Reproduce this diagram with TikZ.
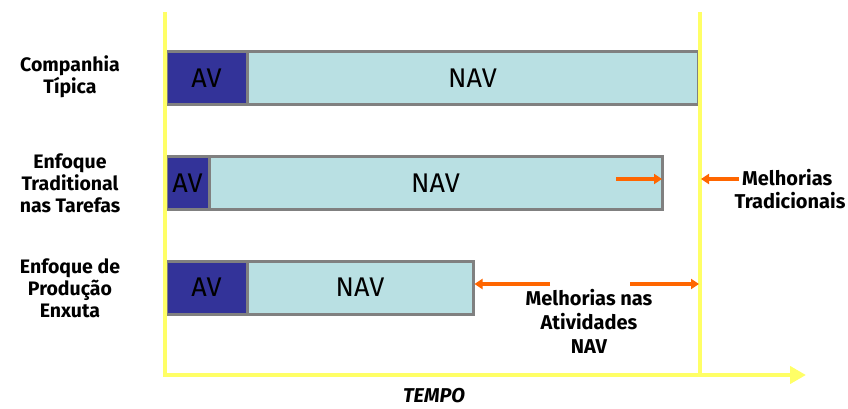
\documentclass[tikz,border=0pt]{standalone}
\usepackage{fontspec}
\setmainfont{Fira Sans}
\usetikzlibrary{arrows.meta}
\definecolor{avblue}{RGB}{51,51,153}
\definecolor{navcyan}{RGB}{185,224,227}
\definecolor{bargray}{RGB}{128,128,128}
\definecolor{axisyellow}{RGB}{255,255,102}
\definecolor{arroworange}{RGB}{255,102,0}
\tikzset{
  avbox/.style={draw=bargray, line width=3pt, fill=avblue, minimum height=53pt, inner sep=0pt, font=\fontsize{27}{27}\selectfont},
  navbox/.style={draw=bargray, line width=3pt, fill=navcyan, minimum height=53pt, inner sep=0pt, font=\fontsize{27}{27}\selectfont},
  rowlabel/.style={align=center, font=\fontsize{19.5}{22}\selectfont\bfseries, inner sep=0pt},
  notelabel/.style={align=center, font=\fontsize{20}{24}\selectfont\bfseries, inner sep=0pt},
  axisline/.style={draw=axisyellow, line width=4pt},
  improve/.style={draw=arroworange, line width=3.5pt, -{Triangle[length=8pt,width=10pt]}}
}
\begin{document}
\begin{tikzpicture}[x=1pt,y=-1pt]
\useasboundingbox (0,0) rectangle (848,409);
% bars
\node[avbox, minimum width=81pt] (av1) at (206.5,78) {AV};
\node[navbox, minimum width=451pt] (nav1) at (472.5,78) {NAV};
\node[avbox, minimum width=43pt] (av2) at (187.5,183) {AV};
\node[navbox, minimum width=453pt] (nav2) at (435.5,183) {NAV};
\node[avbox, minimum width=81pt] (av3) at (206.5,287.5) {AV};
\node[navbox, minimum width=226pt] (nav3) at (360,287.5) {NAV};
% axes
\coordinate (top1) at (165,12);
\coordinate (origin) at (165,375);
\coordinate (top2) at (700,12);
\coordinate (bot2) at (700,375);
\coordinate (axend) at (806,375);
\draw[axisline] (top1) -- (origin);
\draw[axisline] (top2) -- (bot2);
\draw[axisline, -{Triangle[length=16pt,width=17pt]}] (163,375) -- (axend);
% row labels
\node[rowlabel] (l1) at (70,77) {Companhia\\Típica};
\node[rowlabel] (l2) at (70,183) {Enfoque\\Traditional\\nas Tarefas};
\node[rowlabel] (l3) at (70,288) {Enfoque de\\Produção\\Enxuta};
\node[font=\fontsize{20}{20}\selectfont\bfseries\itshape, inner sep=0pt] (tempo) at (434,396) {TEMPO};
% notes
\node[notelabel, anchor=west] (m1) at (742,178) {Melhorias};
\node[notelabel] (m2) at (790,201) {Tradicionais};
\node[notelabel] (m3) at (589,321) {Melhorias nas\\Atividades\\NAV};
% arrows
\coordinate (a2s) at (616,179);
\coordinate (a2e) at (662,179);
\draw[improve] (a2s) -- (a2e);
\coordinate (t1s) at (739,179);
\coordinate (t1e) at (701,179);
\draw[improve] (t1s) -- (t1e);
\coordinate (n1s) at (550,284);
\draw[improve] (n1s) -- (nav3.east |- n1s);
\coordinate (n2s) at (630,284);
\coordinate (n2e) at (699,284);
\draw[improve] (n2s) -- (n2e);
\end{tikzpicture}
\end{document}
